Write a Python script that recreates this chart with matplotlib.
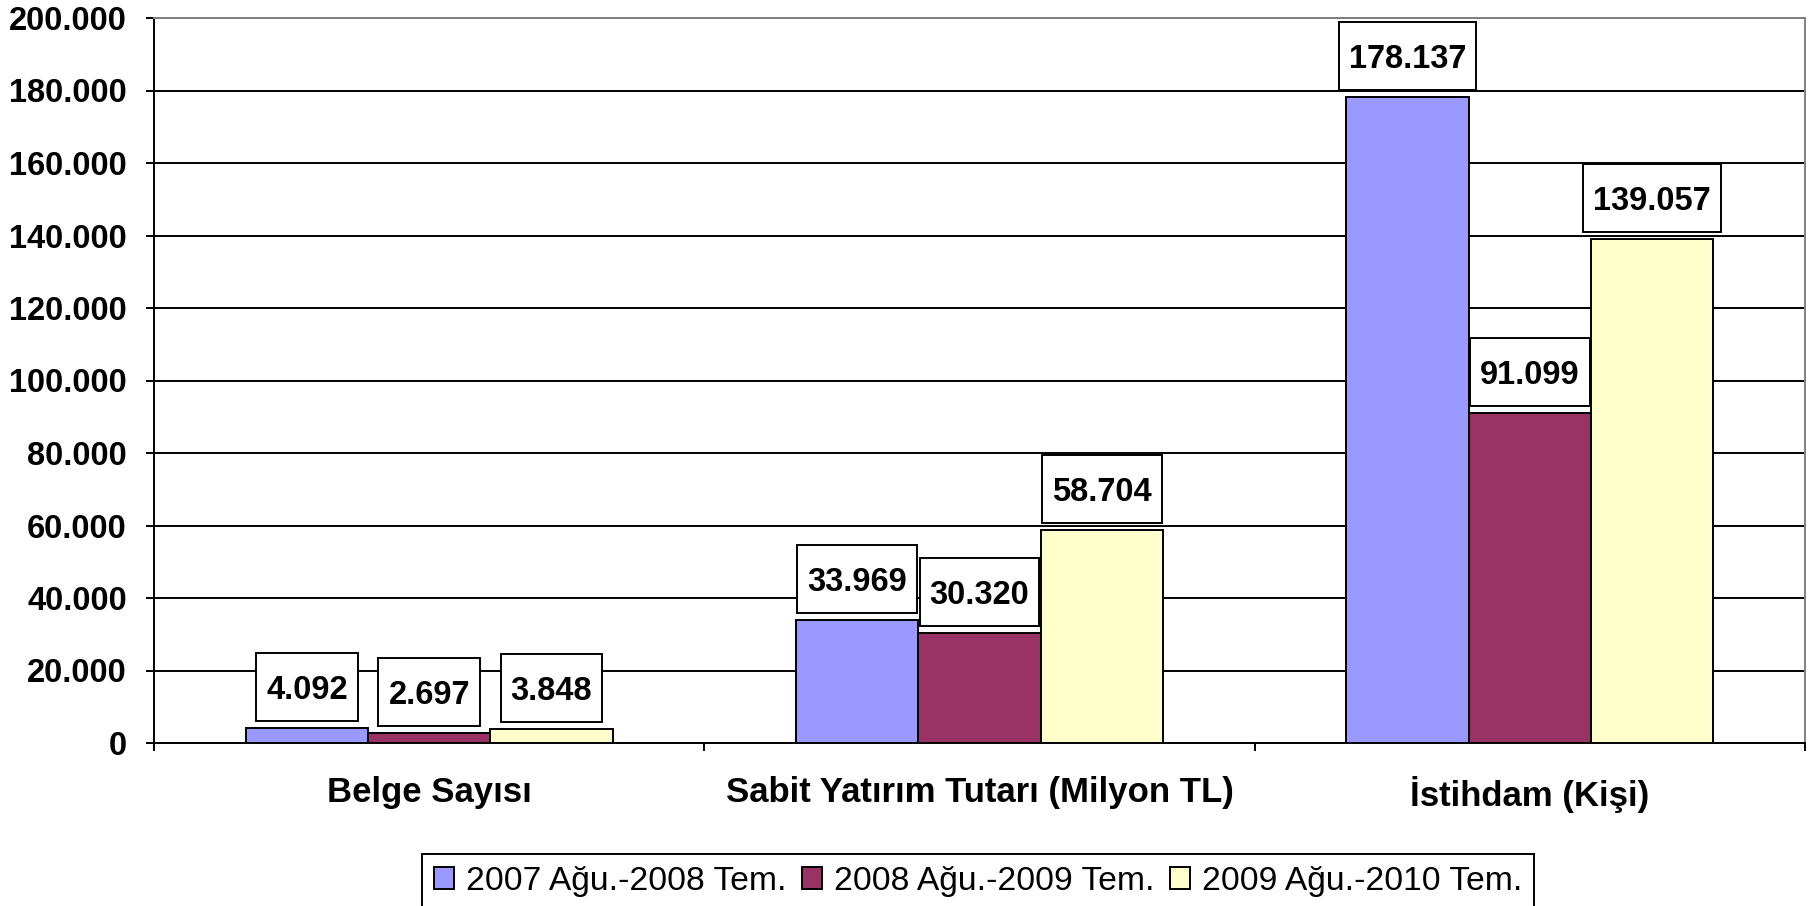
import matplotlib
matplotlib.use('Agg')
import matplotlib.pyplot as plt
import numpy as np
from matplotlib.patches import Rectangle
from matplotlib.transforms import IdentityTransform
from matplotlib.ticker import FuncFormatter, FixedLocator, NullFormatter

# ---- data ----
categories = ["Belge Sayısı", "Sabit Yatırım Tutarı (Milyon TL)", "İstihdam (Kişi)"]
series_names = ["2007 Ağu.-2008 Tem.", "2008 Ağu.-2009 Tem.", "2009 Ağu.-2010 Tem."]
s2007_08 = [4092, 33969, 178137]
s2008_09 = [2697, 30320, 91099]
s2009_10 = [3848, 58704, 139057]
colors = ["#9999FF", "#993366", "#FFFFCC"]
y_ticks = list(range(0, 200001, 20000))

plt.rcParams['font.family'] = ['Liberation Sans', 'DejaVu Sans']

W, H, DPI = 1812, 906, 100
PX = 72.0 / DPI  # points per pixel
fig = plt.figure(figsize=(W / DPI, H / DPI), dpi=DPI)
fig.patch.set_facecolor('white')
ax = fig.add_axes([154 / W, (H - 743) / H, (1805 - 154) / W, (743 - 18) / H])

FS = 23.5
LW = 1.4
series = [s2007_08, s2008_09, s2009_10]
n = len(series)
bw = 1.0 / (n + 1.5)
x = np.arange(len(categories)) + 0.5

bars = []
for i, (vals, c, name) in enumerate(zip(series, colors, series_names)):
    b = ax.bar(x + (i - (n - 1) / 2) * bw, vals, width=bw, color=c,
               edgecolor='black', linewidth=LW, label=name, zorder=3)
    bars.append(b)

ax.set_xlim(0, len(categories))
ax.set_ylim(0, 200000)

# y axis
ax.yaxis.set_major_locator(FixedLocator(y_ticks))
ax.yaxis.set_major_formatter(FuncFormatter(lambda v, p: f"{v:,.0f}".replace(",", ".")))
ax.tick_params(axis='y', which='major', direction='out', length=8 * PX, width=LW,
               pad=19 * PX, labelsize=FS, colors='black')
for lbl in ax.get_yticklabels():
    lbl.set_fontweight('bold')
ax.yaxis.grid(True, color='black', linewidth=LW, zorder=0)
ax.set_axisbelow(True)

# x axis
ax.xaxis.set_major_locator(FixedLocator(np.arange(len(categories) + 1)))
ax.xaxis.set_major_formatter(NullFormatter())
ax.xaxis.set_minor_locator(FixedLocator(x))
ax.set_xticklabels(categories, minor=True, fontweight='bold', fontsize=25)
ax.tick_params(axis='x', which='major', direction='out', length=8 * PX, width=LW)
ax.tick_params(axis='x', which='minor', length=0, pad=33 * PX)

for s in ['left', 'bottom']:
    ax.spines[s].set_color('black')
    ax.spines[s].set_linewidth(LW)
for s in ['top', 'right']:
    ax.spines[s].set_color('#808080')
    ax.spines[s].set_linewidth(LW)

# value labels
items = []
for b in bars:
    for rect in b:
        v = rect.get_height()
        cx = rect.get_x() + rect.get_width() / 2
        label = f"{v:,.0f}".replace(",", ".")
        t = ax.annotate(label, (cx, v), xytext=(0, 29 * PX), textcoords='offset points',
                        ha='center', va='baseline', fontsize=FS, fontweight='bold',
                        zorder=6, annotation_clip=False)
        items.append((t, cx, v))

leg = ax.legend(loc='upper left', bbox_to_anchor=(422 / W, (H - 854) / H),
                bbox_transform=fig.transFigure, ncol=3, fontsize=24.2, frameon=True,
                fancybox=False, shadow=False, edgecolor='black', framealpha=1,
                borderpad=0.35, handlelength=0.6, handleheight=0.6,
                handletextpad=0.36, columnspacing=0.45, borderaxespad=0)
leg.get_frame().set_linewidth(LW)

fig.canvas.draw()
renderer = fig.canvas.get_renderer()
for t, cx, v in items:
    ext = t.get_window_extent(renderer)
    xd, yd = ax.transData.transform((cx, v))
    r = Rectangle((ext.x0 - 10, yd + 7), ext.width + 20, 68, transform=IdentityTransform(),
                  facecolor='white', edgecolor='black', linewidth=LW, zorder=5, clip_on=False)
    ax.add_artist(r)

fig.savefig('out.png', dpi=DPI, facecolor='white')
